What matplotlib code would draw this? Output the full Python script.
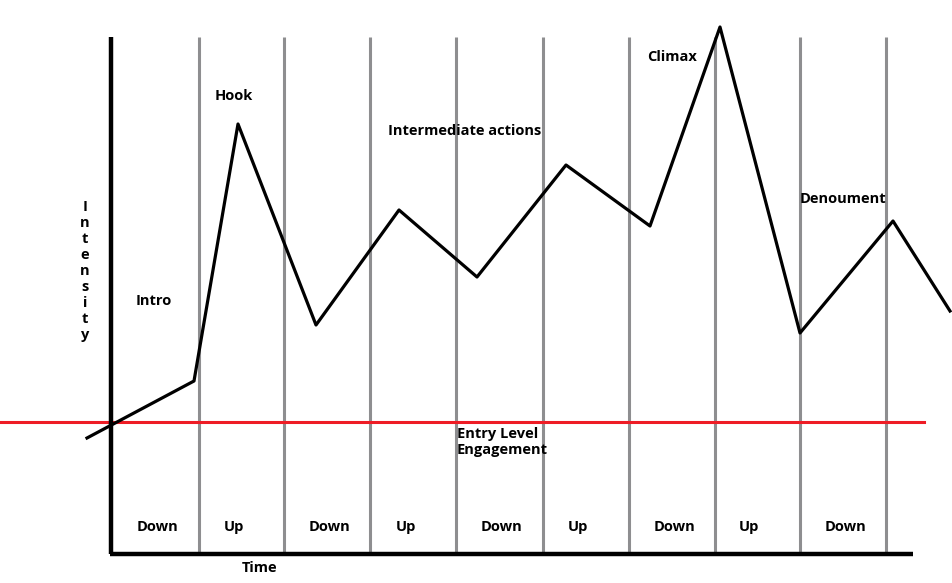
import matplotlib.pyplot as plt

# story arc: time vs intensity (units)
arc_time = [87, 194, 238, 316, 399, 477, 566, 650, 720, 800, 893, 950]
arc_intensity = [145, 202, 459, 258, 373, 306, 418, 357, 556, 250, 362, 272]

# boundaries between the down/up phases
phase_edges = [199, 284, 370, 456, 543, 629, 715, 800, 886]
phase_labels = ["Down", "Up", "Down", "Up", "Down", "Up", "Down", "Up", "Down"]
phase_centers = [158, 234, 330, 406, 502, 578, 675, 749, 846]

entry_level = 161

# story beats: (label, time, intensity)
beats = [
    ("Intro", 154, 282),
    ("Hook", 234, 487),
    ("Intermediate actions", 465, 452),
    ("Climax", 672, 526),
    ("Denoument", 843, 384),
]

plt.rcParams['font.family'] = ['Open Sans', 'DejaVu Sans']

fig = plt.figure(figsize=(9.53, 5.83), dpi=100)
ax = fig.add_axes([0, 0, 1, 1])
ax.set_xlim(0, 953)
ax.set_ylim(0, 583)
ax.axis('off')

# phase separators
ax.vlines(phase_edges, 29, 546, color='#8e8e90', lw=2.2, zorder=1)

# axes
ax.plot([111, 111], [29, 546], color='black', lw=3.2, solid_capstyle='butt', zorder=3)
ax.plot([109.8, 913], [29, 29], color='black', lw=3.2, solid_capstyle='butt', zorder=3)

# entry level engagement
ax.plot([0, 924], [entry_level, entry_level], color='#ee1c25', lw=2.2, zorder=2)

# the arc
ax.plot(arc_time, arc_intensity, color='black', lw=2.3, zorder=4)

txt = dict(fontsize=10.5, fontweight='bold', color='black')
for label, x in zip(phase_labels, phase_centers):
    ax.text(x, 56, label, ha='center', va='center', **txt)

for label, x, y in beats:
    ax.text(x, y, label, ha='center', va='center', **txt)

ax.text(457, 141, "Entry Level\nEngagement", ha='left', va='center',
        linespacing=1.25, **txt)
ax.text(260, 15, "Time", ha='center', va='center', **txt)
ax.text(85, 312, "\n".join("Intensity"), ha='center', va='center',
        linespacing=1.18, **txt)

fig.savefig('out.png', dpi=100)
